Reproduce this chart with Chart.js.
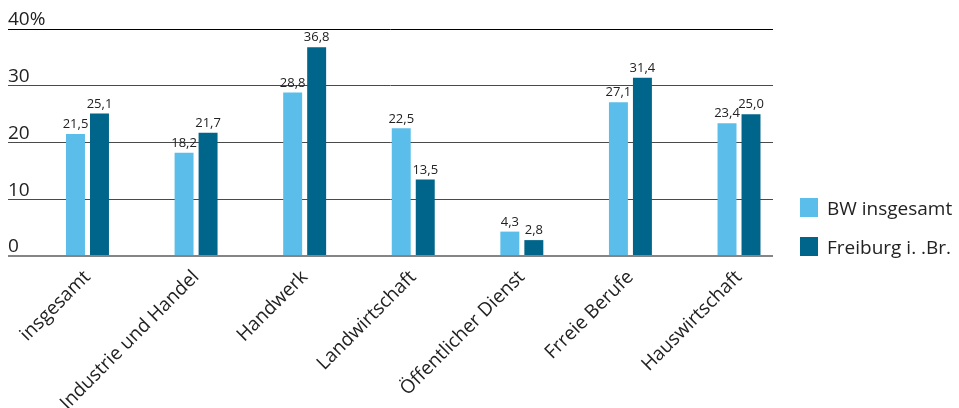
<!DOCTYPE html>
<html><head><meta charset="utf-8">
<script src="https://cdn.jsdelivr.net/npm/chart.js@4/dist/chart.umd.min.js"></script>
<style>
html,body{margin:0;padding:0;background:#fff;}
#wrap{position:relative;width:959px;height:408px;overflow:hidden;}
#legend{position:absolute;left:800px;top:198px;font-family:'Open Sans';font-size:19px;color:#222;}
.item{display:flex;align-items:center;height:19px;margin-bottom:20px;white-space:nowrap;}
.sw{width:18px;height:19px;margin-right:9px;flex:none;}
</style></head><body>
<div id="wrap"><canvas id="c" width="959" height="408"></canvas><div id="legend"></div></div>
<script>
const categories = ['insgesamt','Industrie und Handel','Handwerk','Landwirtschaft','Öffentlicher Dienst','Frreie Berufe','Hauswirtschaft'];
const bwValues = [21.5, 18.2, 28.8, 22.5, 4.3, 27.1, 23.4];
const freiburgValues = [25.1, 21.7, 36.8, 13.5, 2.8, 31.4, 25.0];
const seriesNames = ['BW insgesamt', 'Freiburg i. .Br.'];
const seriesColors = ['#5bbdea', '#00658a'];
const yTickValues = [0, 10, 20, 30, 40];

const FONT = "'Open Sans', sans-serif";

const valueLabels = {
  id: 'valueLabels',
  afterDatasetsDraw(chart) {
    const ctx = chart.ctx;
    ctx.save();
    ctx.font = '13px ' + FONT;
    ctx.fillStyle = '#222';
    ctx.textAlign = 'center';
    ctx.textBaseline = 'bottom';
    chart.data.datasets.forEach((ds, di) => {
      chart.getDatasetMeta(di).data.forEach((bar, i) => {
        ctx.fillText(ds.data[i].y.toFixed(1).replace('.', ','), bar.x, bar.y - 3);
      });
    });
    ctx.restore();
  }
};

const series = [bwValues, freiburgValues];
const chart = new Chart(document.getElementById('c'), {
  type: 'bar',
  data: {
    datasets: series.map((vals, s) => ({
      label: seriesNames[s],
      data: vals.map((v, i) => ({x: i, y: v})),
      backgroundColor: seriesColors[s],
      borderWidth: 0,
      categoryPercentage: 0.442,
      barPercentage: 0.79
    }))
  },
  options: {
    responsive: false,
    animation: false,
    devicePixelRatio: 1,
    layout: {padding: {left: 8, right: 186, top: 29, bottom: 0}},
    plugins: {legend: {display: false}, tooltip: {enabled: false}},
    scales: {
      x: {
        type: 'linear',
        min: -0.732,
        max: 6.313,
        offset: false,
        grid: {display: false},
        border: {display: false},
        afterBuildTicks: s => { s.ticks = categories.map((_, i) => ({value: i})); },
        afterFit: s => { s.height = 152; },
        ticks: {
          autoSkip: false,
          minRotation: 45,
          maxRotation: 45,
          padding: 2,
          color: '#222',
          font: {family: FONT, size: 19},
          callback: v => categories[v]
        }
      },
      y: {
        min: 0,
        max: 40,
        afterBuildTicks: s => { s.ticks = yTickValues.map(v => ({value: v})); },
        border: {display: false},
        grid: {
          drawTicks: false,
          color: c => c.tick.value === 40 ? '#000' : (c.tick.value === 0 ? '#858585' : '#4a4a4a'),
          lineWidth: c => c.tick.value === 0 ? 2 : 1
        },
        ticks: {
          mirror: true,
          padding: 0,
          labelOffset: -9,
          color: '#222',
          font: {family: FONT, size: 19},
          callback: v => v === 40 ? v + '%' : String(v)
        }
      }
    }
  },
  plugins: [valueLabels]
});

const legend = document.getElementById('legend');
seriesNames.forEach((n, i) => {
  const it = document.createElement('div');
  it.className = 'item';
  const sw = document.createElement('span');
  sw.className = 'sw';
  sw.style.background = seriesColors[i];
  const tx = document.createElement('span');
  tx.textContent = n;
  it.appendChild(sw); it.appendChild(tx);
  legend.appendChild(it);
});
</script>
</body></html>
